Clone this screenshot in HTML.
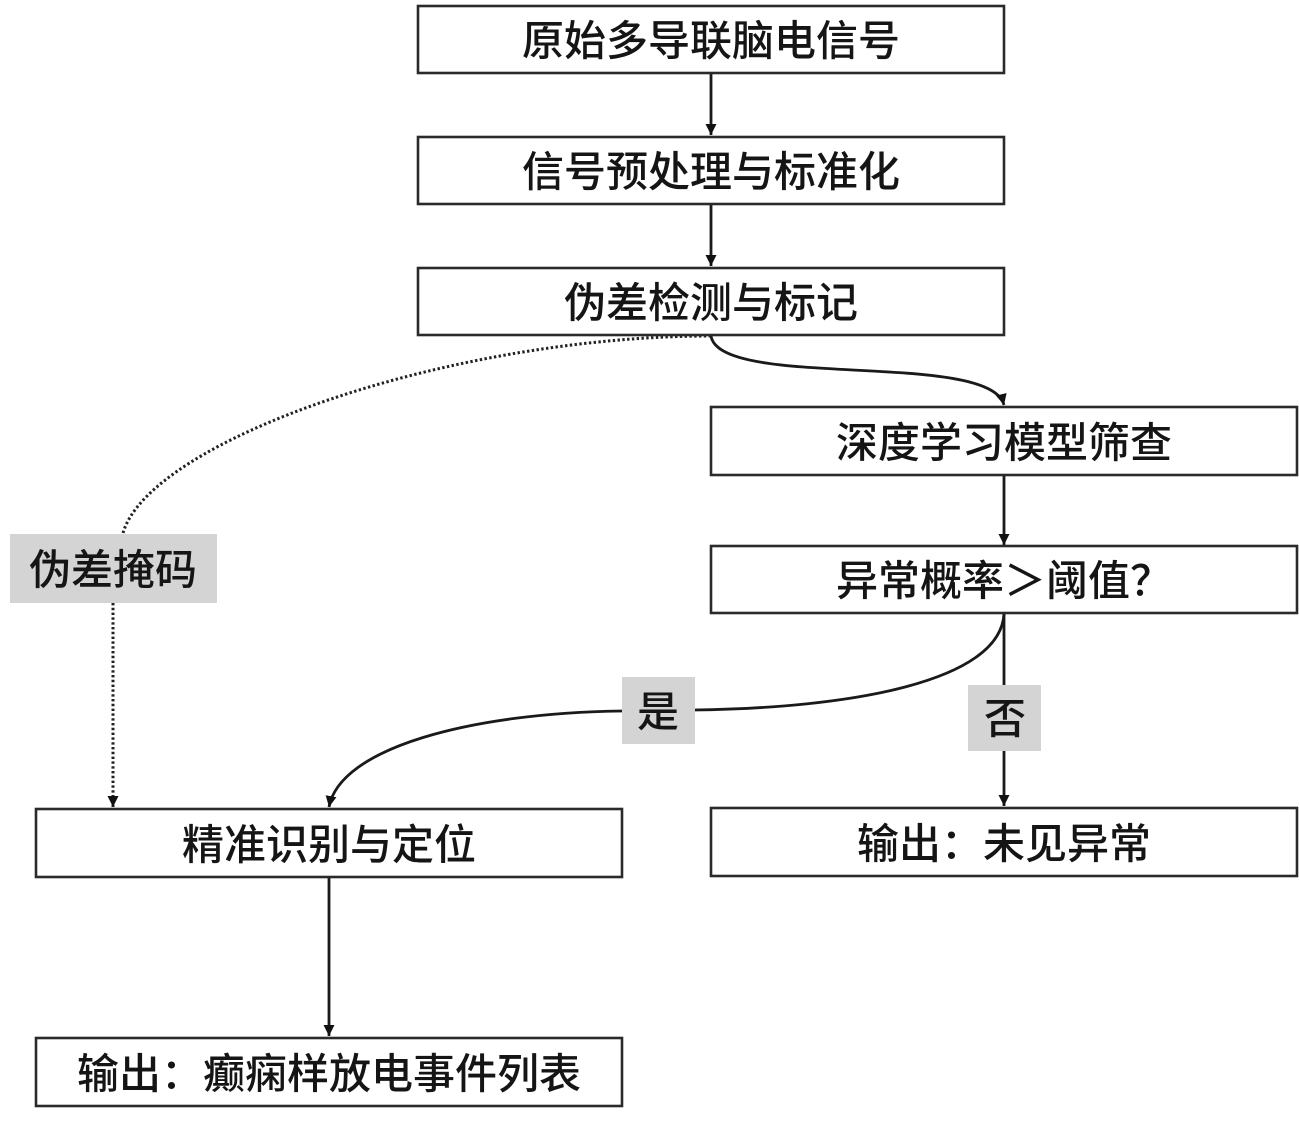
<!DOCTYPE html>
<html>
<head>
<meta charset="utf-8">
<style>
  html, body { margin: 0; padding: 0; background: #ffffff; }
  body { width: 1299px; height: 1123px; overflow: hidden; }
  svg { display: block; }
  text { font-family: "Liberation Sans", "Noto Sans CJK SC", "WenQuanYi Zen Hei", sans-serif; fill: #151515; font-size: 42px; font-weight: 500; }
</style>
</head>
<body>
<svg width="1299" height="1123" viewBox="0 0 1299 1123" xmlns="http://www.w3.org/2000/svg">
  <defs>
    <marker id="ah" viewBox="0 0 10 10" refX="10" refY="5" markerWidth="11" markerHeight="11" markerUnits="userSpaceOnUse" orient="auto">
      <path d="M0,0 L10,5 L0,10 z" fill="#111"/>
    </marker>
  </defs>

  <!-- connectors -->
  <g fill="none" stroke="#1a1a1a" stroke-width="2.8">
    <line x1="711" y1="74" x2="711" y2="135" marker-end="url(#ah)"/>
    <line x1="711" y1="205" x2="711" y2="266" marker-end="url(#ah)"/>
    <path d="M711,336 C720,390 990,350 1004,405" marker-end="url(#ah)"/>
    <line x1="1004" y1="476" x2="1004" y2="545" marker-end="url(#ah)"/>
    <line x1="1004" y1="614" x2="1004" y2="806" marker-end="url(#ah)"/>
    <path d="M1004,614 C1000,682 850,708 694,710 L622,711 C470,713 340,748 329,807" marker-end="url(#ah)"/>
    <line x1="329" y1="878" x2="329" y2="1036" marker-end="url(#ah)"/>
  </g>
  <g fill="none" stroke="#222" stroke-width="3" stroke-dasharray="2.4 2.4">
    <path d="M711,336 C450,336 150,440 123,533"/>
    <line x1="113" y1="603" x2="113" y2="807" marker-end="url(#ah)"/>
  </g>

  <!-- boxes -->
  <g fill="#ffffff" stroke="#2a2a2a" stroke-width="2.6">
    <rect x="418" y="6" width="586" height="67"/>
    <rect x="418" y="137" width="586" height="67"/>
    <rect x="418" y="268" width="586" height="67"/>
    <rect x="711" y="407" width="586" height="68"/>
    <rect x="711" y="546" width="586" height="67"/>
    <rect x="711" y="808" width="586" height="68"/>
    <rect x="36" y="809" width="586" height="68"/>
    <rect x="36" y="1038" width="586" height="68"/>
  </g>

  <!-- labels -->
  <g fill="#d4d4d4">
    <rect x="10" y="534" width="207" height="69"/>
    <rect x="622" y="677" width="73" height="67"/>
    <rect x="968" y="685" width="73" height="66"/>
  </g>

  <!-- texts -->
  <g text-anchor="middle" dominant-baseline="central">
    <text x="711" y="41">原始多导联脑电信号</text>
    <text x="711" y="172">信号预处理与标准化</text>
    <text x="711" y="303">伪差检测与标记</text>
    <text x="1004" y="443">深度学习模型筛查</text>
    <text x="1004" y="581">异常概率＞阈值？</text>
    <text x="1004" y="844">输出：未见异常</text>
    <text x="329" y="845">精准识别与定位</text>
    <text x="329" y="1074">输出：癫痫样放电事件列表</text>
    <text x="113" y="570">伪差掩码</text>
    <text x="658" y="712">是</text>
    <text x="1005" y="719">否</text>
  </g>
</svg>
</body>
</html>
